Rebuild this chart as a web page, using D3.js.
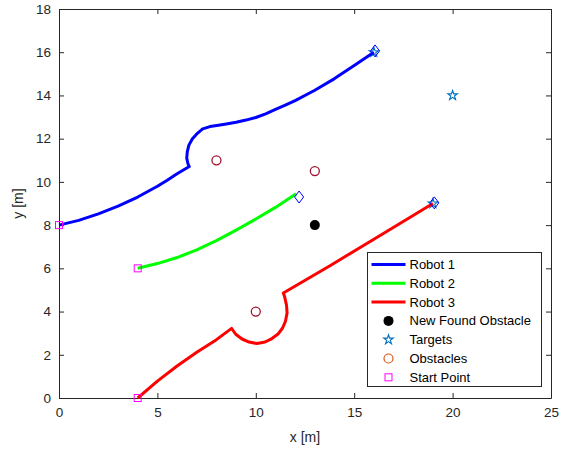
<!DOCTYPE html>
<html>
<head>
<meta charset="utf-8">
<script src="https://cdn.jsdelivr.net/npm/d3@7"></script>
<style>
  body { margin: 0; background: #fff; }
  svg { font-family: 'Liberation Sans', Arial, Helvetica, sans-serif; }
</style>
</head>
<body>
<svg id="chart" width="570" height="450"></svg>
<script>
// robot paths [x, y] in metres
const robot1 = [[0,8],[1,8.22],[2,8.52],[3,8.88],[4,9.3],[5,9.8],[5.5,10.08],[6,10.38],[6.62,10.71],
  [6.55,10.85],[6.49,11.1],[6.52,11.4],[6.6,11.7],[6.78,12.0],[7.0,12.22],[7.3,12.45],[7.67,12.56],
  [8.1,12.62],[8.5,12.68],[9,12.76],[9.5,12.86],[10,12.98],[10.5,13.15],[11,13.35],[11.5,13.55],
  [12,13.76],[13,14.24],[14,14.78],[15,15.38],[16,16.0]];
const robot2 = [[4,6],[5,6.22],[6,6.5],[7,6.85],[8,7.28],[9,7.77],[10,8.28],[11,8.82],[12.05,9.45]];
const robot3 = [[4,0],[5,0.78],[6,1.48],[7,2.12],[8,2.7],[8.77,3.22],[8.98,2.95],[9.3,2.73],
  [9.66,2.59],[10.06,2.52],[10.47,2.59],[10.82,2.75],[11.13,2.96],[11.36,3.24],[11.51,3.56],
  [11.59,3.94],[11.56,4.3],[11.46,4.7],[11.4,4.86],[13.77,6.12],[16,7.35],[19,9.0]];
const robotNames = ['Robot 1', 'Robot 2', 'Robot 3'];
const robotColors = ['#0000ff', '#00ff00', '#ff0000'];

const targets = [[16,16],[20,14],[19,9]];
const finalPos = [[16.06,16.06],[12.2,9.3],[19.07,9.03]];
const obstacles = [[8,11],[13,10.5],[10,4]];
const newObstacle = [[13,8]];
const startPoints = [[0,8],[4,6],[4,0]];

const xTicks = [0,5,10,15,20,25];
const yTicks = [0,2,4,6,8,10,12,14,16,18];

const margin = { top: 9, right: 19, bottom: 52, left: 59 };
const width = 570 - margin.left - margin.right;
const height = 450 - margin.top - margin.bottom;
const axisColor = '#262626';

const svg = d3.select('#chart');
const g = svg.append('g').attr('transform', `translate(${margin.left},${margin.top})`);

const x = d3.scaleLinear().domain([0, 25]).range([0, width]);
const y = d3.scaleLinear().domain([0, 18]).range([height, 0]);

// axes with inward ticks on all four sides
const styleAxis = (sel, showText) => {
  sel.select('.domain').attr('stroke', axisColor);
  sel.selectAll('.tick line').attr('stroke', axisColor);
  sel.selectAll('text').attr('fill', axisColor).style('font-size', '13.5px');
  if (!showText) sel.selectAll('text').remove();
};
g.append('g').attr('transform', `translate(0,${height})`)
  .call(d3.axisBottom(x).tickValues(xTicks).tickSize(-5).tickPadding(9).tickSizeOuter(0))
  .call(s => styleAxis(s, true));
g.append('g')
  .call(d3.axisTop(x).tickValues(xTicks).tickSize(-5).tickSizeOuter(0))
  .call(s => styleAxis(s, false));
g.append('g')
  .call(d3.axisLeft(y).tickValues(yTicks).tickSize(-5).tickPadding(8).tickSizeOuter(0))
  .call(s => styleAxis(s, true));
g.append('g').attr('transform', `translate(${width},0)`)
  .call(d3.axisRight(y).tickValues(yTicks).tickSize(-5).tickSizeOuter(0))
  .call(s => styleAxis(s, false));
svg.selectAll('.domain').attr('stroke-width', 1);

// axis labels
g.append('text').attr('x', width / 2).attr('y', height + 44)
  .attr('text-anchor', 'middle').attr('fill', axisColor).style('font-size', '14px').text('x [m]');
g.append('text').attr('transform', `translate(${-36},${height / 2}) rotate(-90)`)
  .attr('text-anchor', 'middle').attr('fill', axisColor).style('font-size', '14px').text('y [m]');

const star = d3.symbol().type(d3.symbolStar).size(28);
const diamondPath = 'M0,-6L4.5,0L0,6L-4.5,0Z';

// targets
g.selectAll('path.target').data(targets).join('path')
  .attr('class', 'target')
  .attr('transform', d => `translate(${x(d[0])},${y(d[1])})`)
  .attr('d', star).attr('fill', 'none').attr('stroke', '#0072bd').attr('stroke-width', 1.1);

// robot paths
const line = d3.line().x(d => x(d[0])).y(d => y(d[1]));
[robot1, robot2, robot3].forEach((path, i) => {
  g.append('path').datum(path)
    .attr('d', line).attr('fill', 'none')
    .attr('stroke', robotColors[i]).attr('stroke-width', 3)
    .attr('stroke-linejoin', 'round');
});

// final robot positions
g.selectAll('path.final').data(finalPos).join('path')
  .attr('class', 'final')
  .attr('transform', d => `translate(${x(d[0])},${y(d[1])})`)
  .attr('d', diamondPath).attr('fill', 'none').attr('stroke', '#0000ff').attr('stroke-width', 1);

// obstacles
g.selectAll('circle.obst').data(obstacles).join('circle')
  .attr('class', 'obst')
  .attr('cx', d => x(d[0])).attr('cy', d => y(d[1])).attr('r', 4.5)
  .attr('fill', 'none').attr('stroke', '#a2142f').attr('stroke-width', 1.3);

g.selectAll('circle.newobst').data(newObstacle).join('circle')
  .attr('class', 'newobst')
  .attr('cx', d => x(d[0])).attr('cy', d => y(d[1])).attr('r', 5)
  .attr('fill', '#000');

// start points
g.selectAll('rect.start').data(startPoints).join('rect')
  .attr('class', 'start')
  .attr('x', d => x(d[0]) - 3.5).attr('y', d => y(d[1]) - 3.5)
  .attr('width', 7).attr('height', 7)
  .attr('fill', 'none').attr('stroke', '#ff00ff').attr('stroke-width', 1);

// legend
const legendItems = [
  { label: robotNames[0], kind: 'line', color: robotColors[0] },
  { label: robotNames[1], kind: 'line', color: robotColors[1] },
  { label: robotNames[2], kind: 'line', color: robotColors[2] },
  { label: 'New Found Obstacle', kind: 'dot', color: '#000' },
  { label: 'Targets', kind: 'star', color: '#0072bd' },
  { label: 'Obstacles', kind: 'circle', color: '#d95319' },
  { label: 'Start Point', kind: 'square', color: '#ff00ff' },
];
const lg = svg.append('g').attr('transform', 'translate(367.5,252.5)');
lg.append('rect').attr('width', 174).attr('height', 134)
  .attr('fill', '#fff').attr('stroke', axisColor).attr('stroke-width', 1);
const rowH = 18.8;
legendItems.forEach((d, i) => {
  const cy = 12 + i * rowH;
  const row = lg.append('g').attr('transform', `translate(0,${cy})`);
  if (d.kind === 'line') {
    row.append('line').attr('x1', 4).attr('x2', 38).attr('y1', 0).attr('y2', 0)
      .attr('stroke', d.color).attr('stroke-width', 3);
  } else if (d.kind === 'dot') {
    row.append('circle').attr('cx', 21).attr('r', 5).attr('fill', d.color);
  } else if (d.kind === 'star') {
    row.append('path').attr('transform', 'translate(21,0)').attr('d', star)
      .attr('fill', 'none').attr('stroke', d.color).attr('stroke-width', 1.1);
  } else if (d.kind === 'circle') {
    row.append('circle').attr('cx', 21).attr('r', 4.5)
      .attr('fill', 'none').attr('stroke', d.color).attr('stroke-width', 1.2);
  } else {
    row.append('rect').attr('x', 17.5).attr('y', -3.5).attr('width', 7).attr('height', 7)
      .attr('fill', 'none').attr('stroke', d.color).attr('stroke-width', 1);
  }
  row.append('text').attr('x', 42).attr('y', 0).attr('dy', '0.35em')
    .attr('fill', '#000').style('font-size', '13px').text(d.label);
});
</script>
</body>
</html>
